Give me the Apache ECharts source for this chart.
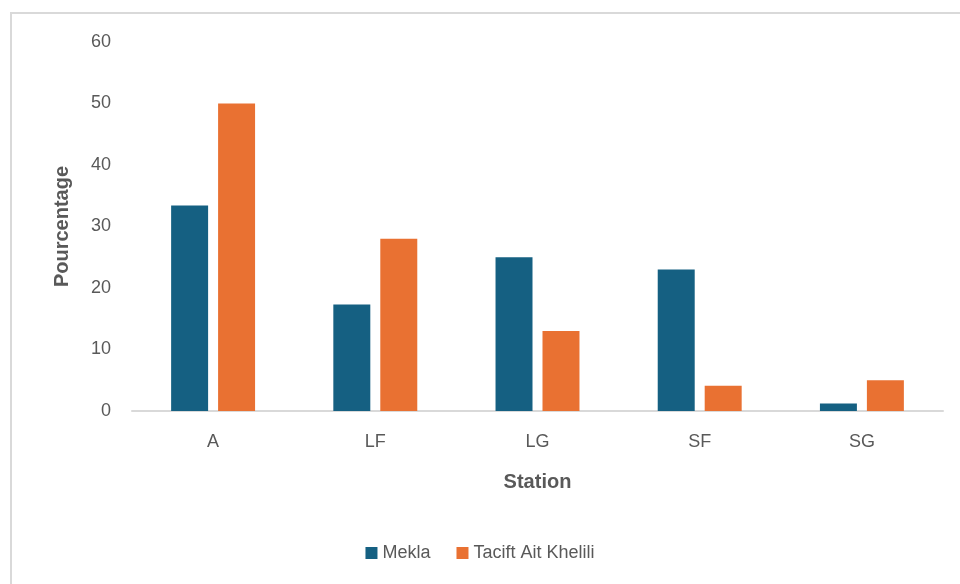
<!DOCTYPE html>
<html>
<head>
<meta charset="utf-8">
<script src="https://cdn.jsdelivr.net/npm/echarts@6/dist/echarts.min.js"></script>
<style>
html,body{margin:0;padding:0;background:#fff;}
#chart{width:960px;height:584px;}
</style>
</head>
<body>
<div id="chart"></div>
<script>
const categories = ['A', 'LF', 'LG', 'SF', 'SG'];
const mekla = [33.4, 17.3, 25.0, 23.0, 1.2];
const tacift = [50.0, 28.0, 13.0, 4.1, 5.0];
const seriesNames = ['Mekla', 'Tacift Ait Khelili'];
const yTicks = [0, 10, 20, 30, 40, 50, 60];

const chart = echarts.init(document.getElementById('chart'));
const font = '"Liberation Sans", Arial, sans-serif';
chart.setOption({
  animation: false,
  backgroundColor: '#ffffff',
  graphic: [{
    type: 'rect',
    shape: { x: 11, y: 13, width: 980, height: 600 },
    style: { fill: 'none', stroke: '#d9d9d9', lineWidth: 2 },
    silent: true
  }],
  grid: { left: 132, right: 17, top: 42, bottom: 173 },
  legend: {
    bottom: 17,
    left: 'center',
    itemWidth: 12,
    itemHeight: 12,
    itemGap: 26,
    icon: 'rect',
    textStyle: { color: '#595959', fontSize: 18, fontFamily: font },
    data: seriesNames
  },
  xAxis: {
    type: 'category',
    data: categories,
    name: 'Station',
    nameLocation: 'middle',
    nameGap: 61,
    nameTextStyle: { color: '#595959', fontSize: 20, fontWeight: 'bold', fontFamily: font },
    axisLine: { lineStyle: { color: '#d9d9d9', width: 2 } },
    axisTick: { show: false },
    axisLabel: { color: '#595959', fontSize: 18, margin: 22, fontFamily: font }
  },
  yAxis: {
    type: 'value',
    min: yTicks[0],
    max: yTicks[yTicks.length - 1],
    interval: 10,
    name: 'Pourcentage',
    nameLocation: 'middle',
    nameGap: 60,
    nameRotate: 90,
    nameTextStyle: { color: '#595959', fontSize: 20, fontWeight: 'bold', fontFamily: font },
    axisLine: { show: false },
    axisTick: { show: false },
    splitLine: { show: false },
    axisLabel: { color: '#595959', fontSize: 18, margin: 21, fontFamily: font }
  },
  series: [
    {
      name: seriesNames[0], type: 'bar', data: mekla,
      barWidth: '22.8%', barGap: '27%',
      itemStyle: { color: '#156082' }
    },
    {
      name: seriesNames[1], type: 'bar', data: tacift,
      barWidth: '22.8%', barGap: '27%',
      itemStyle: { color: '#E97132' }
    }
  ]
});
</script>
</body>
</html>
